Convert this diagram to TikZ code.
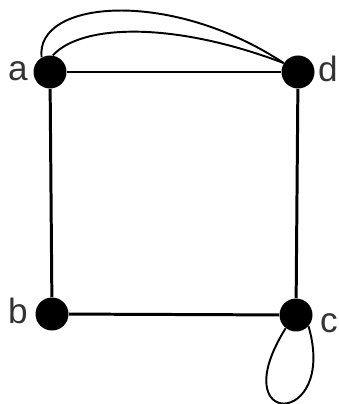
\documentclass[tikz,border=0pt]{standalone}
\usepackage{fontspec}
\setmainfont{Liberation Sans}
\begin{document}
\begin{tikzpicture}[x=0.02cm,y=-0.02cm,
  vtx/.style={circle, fill=black, inner sep=0pt, minimum size=0.66cm},
  lbl/.style={font={\fontsize{20}{24}\selectfont}, text=black!80, anchor=base, inner sep=0pt},
  edge/.style={line width=1.7pt},
  arc/.style={line width=1.1pt}]
\useasboundingbox (0,0) rectangle (338,404);
% vertices
\node[vtx] (a) at (50,72) {};
\node[vtx] (d) at (298,72) {};
\node[vtx] (b) at (52,314) {};
\node[vtx] (c) at (296,315) {};
% labels
\node[lbl] (la) at (18,81) {a};
\node[lbl] (ld) at (328,82) {d};
\node[lbl] (lb) at (18,323) {b};
\node[lbl] (lc) at (329,332) {c};
% square
\draw[edge] (a) -- (d);
\draw[edge] (a) -- (b);
\draw[edge] (b) -- (c);
\draw[edge] (d) -- (c);
% parallel edges a-d
\draw[arc] (a.120) .. controls (35,0) and (170,-12) .. (d.148);
\draw[arc] (a.80) .. controls (80,25) and (170,20) .. (d.148);
% loop at c
\draw[arc] (c.232) .. controls (222,430) and (338,428) .. (c.318);
\end{tikzpicture}
\end{document}
